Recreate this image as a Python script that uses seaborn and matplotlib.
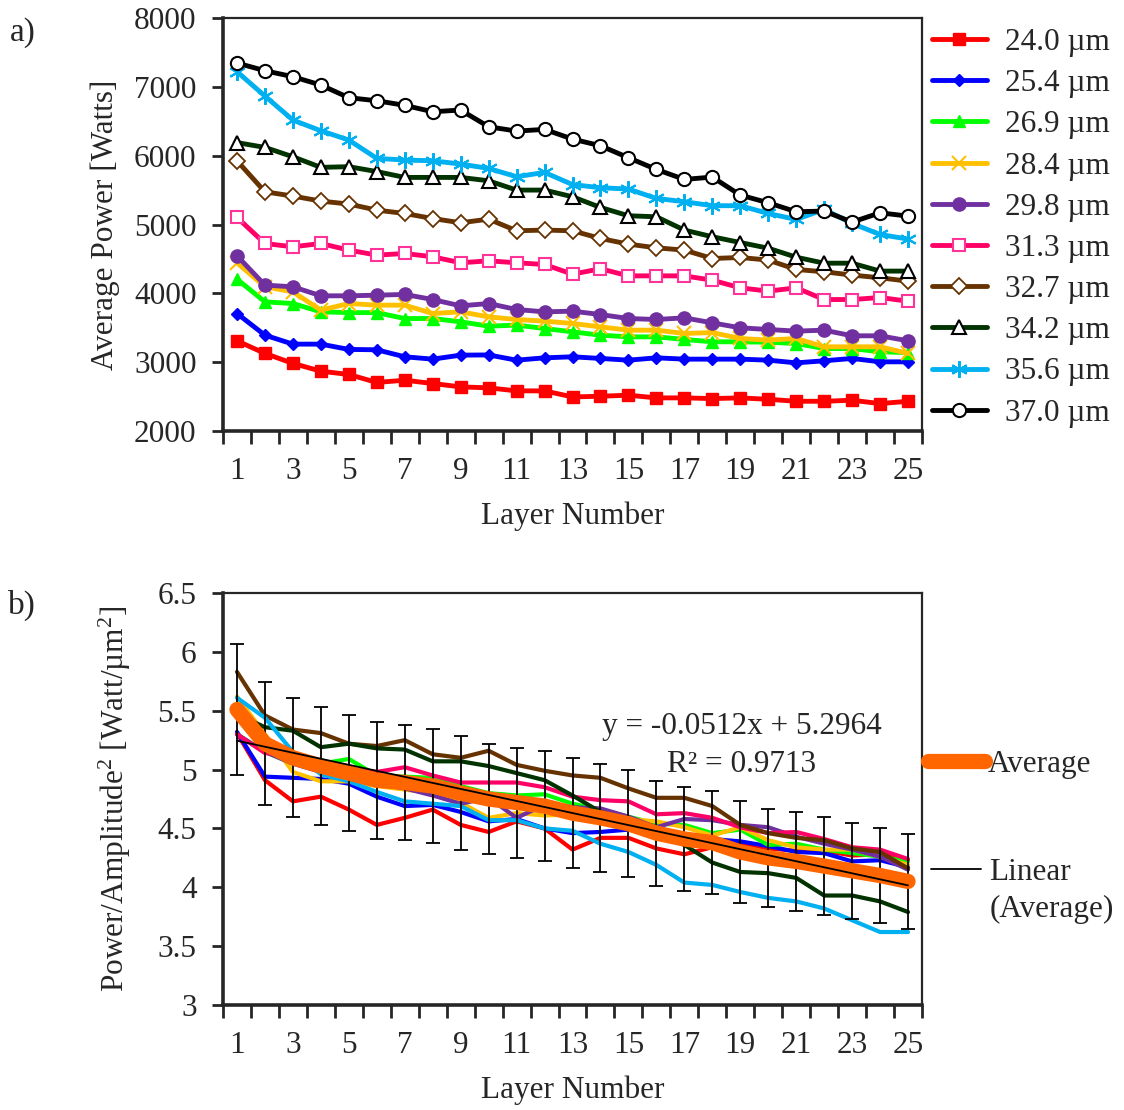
import matplotlib
matplotlib.use("Agg")
import matplotlib.pyplot as plt
import seaborn as sns
import numpy as np
import pandas as pd
from matplotlib.lines import Line2D

layers = np.arange(1, 26)
amp_labels = ["24.0 µm", "25.4 µm", "26.9 µm", "28.4 µm", "29.8 µm",
              "31.3 µm", "32.7 µm", "34.2 µm", "35.6 µm", "37.0 µm"]
colors = ["#FF0000", "#0000FF", "#00FF00", "#FFC000", "#7030A0",
          "#FF0066", "#663300", "#003300", "#00B0F0", "#000000"]

# a) average power [W]
p240 = [3310, 3127, 2982, 2869, 2821, 2705, 2738, 2690, 2641, 2627, 2583, 2583, 2495,
        2505, 2520, 2481, 2481, 2471, 2481, 2461, 2432, 2432, 2447, 2398, 2432]
p254 = [3707, 3392, 3262, 3262, 3185, 3180, 3078, 3044, 3102, 3105, 3029, 3063, 3078,
        3054, 3029, 3063, 3044, 3044, 3044, 3029, 2990, 3020, 3054, 3005, 3005]
p269 = [4206, 3876, 3852, 3731, 3720, 3720, 3634, 3634, 3586, 3523, 3538, 3489, 3441,
        3392, 3368, 3368, 3330, 3296, 3296, 3290, 3271, 3198, 3198, 3150, 3140]
p284 = [4444, 4095, 4022, 3756, 3852, 3828, 3828, 3707, 3731, 3658, 3620, 3596, 3562,
        3513, 3465, 3465, 3417, 3430, 3344, 3320, 3344, 3223, 3223, 3223, 3127]
p298 = [4545, 4119, 4095, 3964, 3964, 3973, 3984, 3910, 3818, 3852, 3765, 3731, 3741,
        3692, 3634, 3620, 3644, 3571, 3499, 3475, 3451, 3465, 3383, 3383, 3310]
p313 = [5103, 4724, 4676, 4724, 4628, 4555, 4579, 4531, 4444, 4472, 4444, 4419, 4278,
        4357, 4254, 4254, 4254, 4191, 4080, 4032, 4080, 3910, 3910, 3939, 3886]
p327 = [5926, 5475, 5413, 5340, 5297, 5209, 5160, 5087, 5025, 5078, 4909, 4919, 4909,
        4797, 4715, 4661, 4628, 4506, 4521, 4483, 4347, 4313, 4265, 4226, 4177]
p342 = [6190, 6120, 5984, 5830, 5840, 5769, 5684, 5684, 5684, 5635, 5500, 5500, 5403,
        5248, 5127, 5112, 4919, 4822, 4738, 4656, 4525, 4438, 4438, 4323, 4323]
p356 = [7220, 6866, 6517, 6362, 6227, 5961, 5936, 5926, 5878, 5815, 5694, 5757, 5580,
        5534, 5515, 5379, 5331, 5273, 5273, 5160, 5073, 5219, 5015, 4855, 4788]
p370 = [7346, 7234, 7147, 7026, 6842, 6798, 6731, 6638, 6663, 6420, 6357, 6382, 6241,
        6144, 5970, 5800, 5655, 5689, 5427, 5316, 5185, 5195, 5035, 5170, 5122]
power = [p240, p254, p269, p284, p298, p313, p327, p342, p356, p370]

# b) power / amplitude^2 [W/um^2]
r240 = [5.31, 4.91, 4.73, 4.77, 4.66, 4.53, 4.59, 4.66, 4.53, 4.47, 4.56, 4.50, 4.32,
        4.42, 4.42, 4.33, 4.28, 4.34, 4.38, 4.33, 4.31, 4.31, 4.27, 4.28, 4.23]
r254 = [5.32, 4.94, 4.93, 4.92, 4.88, 4.77, 4.69, 4.70, 4.64, 4.56, 4.58, 4.50, 4.46,
        4.47, 4.49, 4.45, 4.43, 4.41, 4.39, 4.35, 4.30, 4.29, 4.22, 4.23, 4.17]
r269 = [5.30, 5.15, 5.05, 5.05, 5.09, 4.95, 4.94, 4.93, 4.86, 4.80, 4.78, 4.79, 4.71,
        4.66, 4.60, 4.54, 4.53, 4.46, 4.49, 4.36, 4.37, 4.32, 4.29, 4.26, 4.22]
r284 = [5.62, 5.30, 4.98, 4.90, 4.90, 4.86, 4.83, 4.80, 4.72, 4.59, 4.63, 4.61, 4.62,
        4.60, 4.58, 4.56, 4.51, 4.44, 4.51, 4.40, 4.34, 4.32, 4.32, 4.26, 4.19]
r298 = [5.30, 5.15, 5.05, 4.98, 4.93, 4.88, 4.84, 4.78, 4.71, 4.76, 4.59, 4.70, 4.68,
        4.67, 4.60, 4.51, 4.58, 4.57, 4.53, 4.51, 4.43, 4.37, 4.32, 4.26, 4.15]
r313 = [5.30, 5.14, 5.12, 5.05, 5.00, 4.98, 5.02, 4.95, 4.89, 4.89, 4.89, 4.85, 4.77,
        4.74, 4.73, 4.62, 4.63, 4.59, 4.51, 4.46, 4.47, 4.41, 4.34, 4.32, 4.24]
r327 = [5.83, 5.46, 5.34, 5.31, 5.22, 5.20, 5.25, 5.13, 5.10, 5.16, 5.04, 4.99, 4.95,
        4.93, 4.84, 4.76, 4.76, 4.69, 4.53, 4.46, 4.42, 4.40, 4.33, 4.30, 4.16]
r342 = [5.47, 5.36, 5.33, 5.19, 5.22, 5.18, 5.17, 5.07, 5.07, 5.03, 4.97, 4.91, 4.78,
        4.64, 4.57, 4.45, 4.36, 4.21, 4.13, 4.12, 4.08, 3.93, 3.93, 3.88, 3.79]
r356 = [5.61, 5.44, 5.15, 4.96, 4.90, 4.81, 4.73, 4.71, 4.69, 4.57, 4.57, 4.50, 4.48,
        4.37, 4.30, 4.19, 4.04, 4.02, 3.96, 3.91, 3.88, 3.82, 3.72, 3.62, 3.62]
ratio = [r240, r254, r269, r284, r298, r313, r327, r342, r356]

avg = [5.51, 5.22, 5.10, 5.03, 4.97, 4.91, 4.89, 4.86, 4.80, 4.75, 4.72, 4.69, 4.63,
       4.59, 4.54, 4.46, 4.41, 4.38, 4.30, 4.25, 4.22, 4.18, 4.14, 4.10, 4.05]
avg_err = [0.557, 0.521, 0.507, 0.503, 0.496, 0.496, 0.491, 0.488, 0.481, 0.467, 0.467,
           0.468, 0.467, 0.460, 0.453, 0.446, 0.439, 0.435, 0.432, 0.418, 0.420, 0.418,
           0.408, 0.405, 0.405]
fit_slope, fit_intercept, fit_r2 = -0.0512, 5.2964, 0.9713

# marker, size, face, edge, edge width
marker_styles = [
    ("s", 9, "#FF0000", "#FF0000", 1),
    ("D", 6.5, "#0000FF", "#0000FF", 1),
    ("^", 8.5, "#00FF00", "#00FF00", 1),
    ("x", 10, "#FFC000", "#FFC000", 1.5),
    ("o", 9.5, "#7030A0", "#7030A0", 1),
    ("s", 9, "white", "#FF3399", 1.5),
    ("D", 8, "white", "#663300", 1.3),
    ("^", 10.5, "white", "#000000", 1.5),
    ((6, 2, 0), 12, "#00B0F0", "#00B0F0", 1.5),
    ("o", 9.5, "white", "#000000", 1.5),
]

sns.set_style("ticks")
plt.rcParams["font.family"] = ["Liberation Serif", "DejaVu Serif"]
plt.rcParams["mathtext.fontset"] = "custom"
plt.rcParams["mathtext.rm"] = "Liberation Serif"
plt.rcParams["mathtext.it"] = "Liberation Serif:italic"
fs = 22.5

fig = plt.figure(figsize=(11.24, 11.10), dpi=100)
W, H = 1124, 1110
ax1 = fig.add_axes([223 / W, 1 - 431 / H, 699 / W, 413 / H])
ax2 = fig.add_axes([223 / W, 1 - 1005 / H, 699 / W, 412 / H])

# ---- panel a
for vals, lab, col, (mk, ms, mfc, mec, mew) in zip(power, amp_labels, colors, marker_styles):
    df = pd.DataFrame({"layer": layers, "value": vals})
    sns.lineplot(data=df, x="layer", y="value", ax=ax1, color=col, lw=3.5,
                 marker=mk, markersize=ms, markerfacecolor=mfc, markeredgecolor=mec,
                 markeredgewidth=mew, label=lab, legend=False)

ax1.set_ylim(2000, 8000)
ax1.set_yticks(np.arange(2000, 8001, 1000))
ax1.set_ylabel("Average Power [Watts]", fontsize=fs, labelpad=10)
ax1.legend(handles=ax1.get_lines()[:10], labels=amp_labels, loc="upper left",
           bbox_to_anchor=(1.0, 1.0), frameon=False, fontsize=fs, handlelength=1.75,
           handletextpad=0.6, labelspacing=0.39, borderaxespad=0.1, borderpad=0.22)

# ---- panel b
for vals, col in zip(ratio, colors):
    sns.lineplot(x=layers, y=vals, ax=ax2, color=col, lw=3, legend=False)

ax2.errorbar(layers, avg, yerr=avg_err, fmt="none", ecolor="black", elinewidth=1.3,
             capsize=5, capthick=1.3, zorder=4)
sns.lineplot(x=layers, y=avg, ax=ax2, color="#FF6600", lw=11, legend=False,
             solid_capstyle="round", zorder=5)
fit_y = fit_slope * layers + fit_intercept
sns.lineplot(x=layers, y=fit_y, ax=ax2, color="black", lw=1.3, legend=False, zorder=6)

ax2.text(0.742, 0.675, f"y = {fit_slope}x + {fit_intercept}", transform=ax2.transAxes,
         ha="center", va="center", fontsize=fs)
ax2.text(0.742, 0.583, f"R² = {fit_r2}", transform=ax2.transAxes,
         ha="center", va="center", fontsize=fs)

ax2.set_ylim(3, 6.5)
yt = np.arange(3, 6.51, 0.5)
ax2.set_yticks(yt)
ax2.set_yticklabels([f"{v:g}" for v in yt])
ax2.set_ylabel("Power/Amplitude$^{2}$ [Watt/µm$^{2}$]", fontsize=fs, labelpad=18)

h_avg = Line2D([], [], color="#FF6600", lw=11, solid_capstyle="round")
leg1 = ax2.legend(handles=[h_avg], labels=["Average"], loc="center left",
                  bbox_to_anchor=(1.0, 0.583), frameon=False, fontsize=fs,
                  handlelength=1.8, handletextpad=0.1, borderaxespad=0.0, borderpad=0.2)
ax2.add_artist(leg1)
h_fit = Line2D([], [], color="black", lw=1.3)
h_blank = Line2D([], [], lw=0)
ax2.legend(handles=[h_fit, h_blank], labels=["Linear", "(Average)"], loc="upper left",
           bbox_to_anchor=(1.0, 0.379), frameon=False, fontsize=fs, handlelength=1.6,
           handletextpad=0.25, labelspacing=0.25, borderaxespad=0.0, borderpad=0.3)

for ax in (ax1, ax2):
    ax.set_xlim(0.5, 25.5)
    ax.set_xticks(layers[::2])
    ax.set_xticklabels([str(v) for v in layers[::2]])
    ax.set_xticks(np.arange(0.5, 25.6, 1), minor=True)
    ax.tick_params(axis="x", which="major", length=0, pad=19, labelsize=fs)
    ax.tick_params(axis="x", which="minor", length=9, width=2, direction="out")
    ax.tick_params(axis="y", which="major", length=8, width=2, direction="out",
                   labelsize=fs, pad=11)
    ax.set_xlabel("Layer Number", fontsize=fs, labelpad=11)
    for side in ("left", "bottom"):
        ax.spines[side].set_linewidth(2.6)
    for side in ("top", "right"):
        ax.spines[side].set_linewidth(1.6)
    ax.set_facecolor("white")

fig.text(10 / W, 1 - 33 / H, "a)", fontsize=24, va="center", ha="left")
fig.text(8 / W, 1 - 605 / H, "b)", fontsize=24, va="center", ha="left")

fig.savefig("out.png", dpi=100, facecolor="white")
